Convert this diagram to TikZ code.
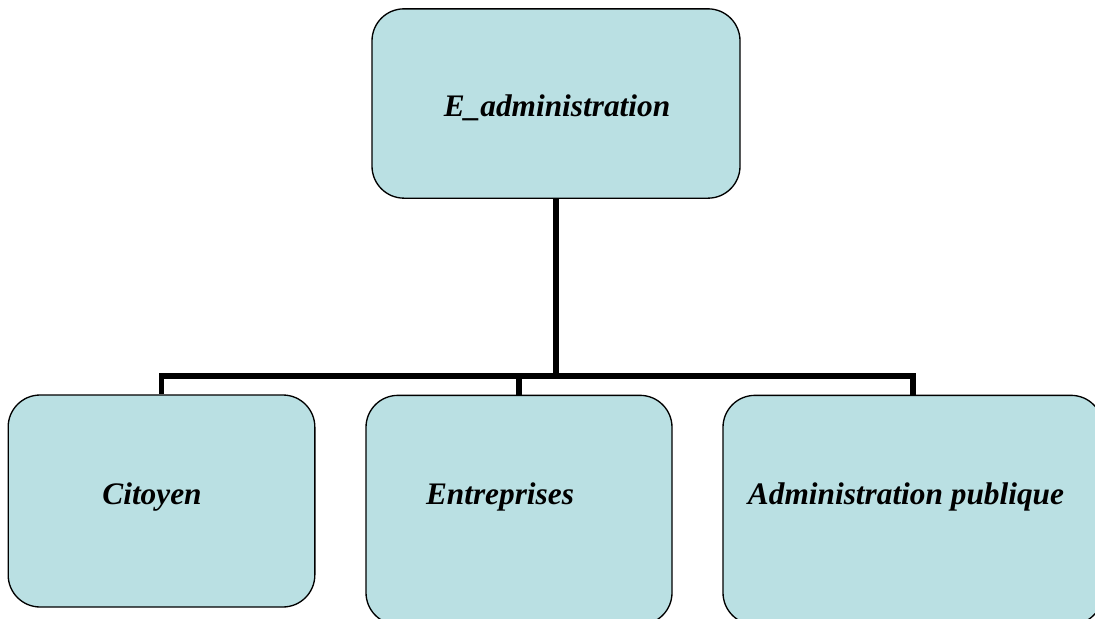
\documentclass[tikz,border=0pt]{standalone}
\usepackage{fontspec}
\setmainfont{Liberation Serif}
\usepackage{xcolor}
\usepackage{tikz}
\usetikzlibrary{positioning, calc}
\definecolor{boxfill}{RGB}{186,224,227}

\begin{document}
\begin{tikzpicture}[x=0.75pt, y=-0.75pt,
    box/.style={draw=black, line width=1pt, fill=boxfill, rounded corners=24pt, inner sep=0pt},
    lbl/.style={font=\fontsize{23.5}{28}\selectfont\bfseries\itshape},
    conn/.style={line width=3.8pt}]
      \useasboundingbox (0,0) rectangle (1095,618);

      \node[box, minimum width=276pt, minimum height=142pt] (top) at (556,103.5) {};
      \node[box, minimum width=230pt, minimum height=159pt] (cit) at (161.5,501) {};
      \node[box, minimum width=229.5pt, minimum height=172pt] (ent) at (519,510) {};
      \node[box, minimum width=285pt, minimum height=172pt] (pub) at (913,510) {};

      \node[lbl] (ltop) at (557,108) {E\_administration};
      \node[lbl] (lcit) at (152,497) {Citoyen};
      \node[lbl] (lent) at (500,497) {Entreprises};
      \node[lbl] (lpub) at (906,497) {Administration publique};

      \coordinate (bus) at (556,376);
      \draw[conn] (top.south) -- (bus);
      \draw[conn] (bus) -| (cit.north);
      \draw[conn] (bus) -| (ent.north);
      \draw[conn] (bus) -| (pub.north);
\end{tikzpicture}
\end{document}
